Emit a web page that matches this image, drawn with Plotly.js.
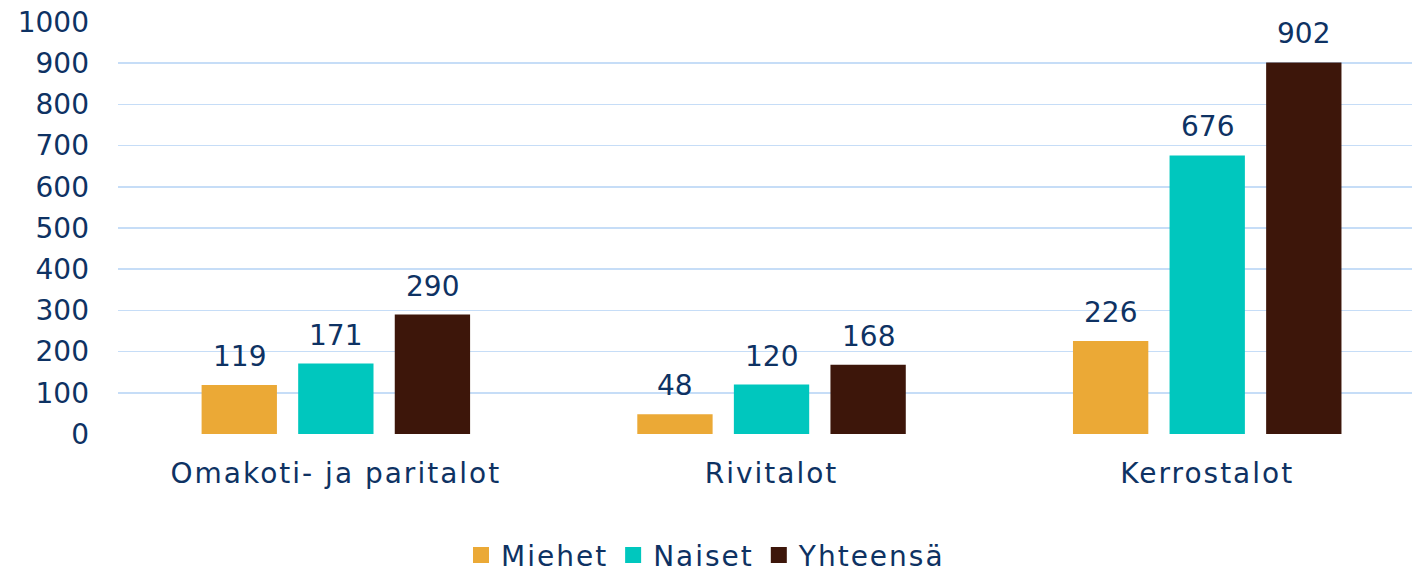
<!DOCTYPE html>
<html><head><meta charset="utf-8">
<script src="https://cdn.plot.ly/plotly-3.0.1.min.js"></script>
<style>
html,body{margin:0;padding:0;background:#fff}
#chart{width:1412px;height:573px}
.xtick text, .legendtext{letter-spacing:2px}
path.legendundefined{d:path("M8,8H-8V-8H8Z")}
</style>
</head><body><div id="chart"></div>
<script>
const categories = ["Omakoti- ja paritalot", "Rivitalot", "Kerrostalot"];
const seriesNames = ["Miehet", "Naiset", "Yhteensä"];
const miehet = [119, 48, 226];
const naiset = [171, 120, 676];
const yhteensa = [290, 168, 902];
const yTicks = [0, 100, 200, 300, 400, 500, 600, 700, 800, 900, 1000];

const colors = ["#EBA936", "#00C7BE", "#3D160A"];
const textColor = "#0E3263";
const fontFam = "'DejaVu Sans', sans-serif";
const values = [miehet, naiset, yhteensa];
const slot = 0.2215;

const data = values.map((v, i) => ({
  type: "bar",
  name: seriesNames[i],
  legendgroup: "g" + i,
  x: categories,
  y: v,
  marker: {color: colors[i]},
  hoverinfo: "x+y+name"
}));

const annotations = [];
values.forEach((v, i) => {
  v.forEach((val, j) => {
    annotations.push({
      x: j + (i - 1) * slot, y: val, xref: "x", yref: "y",
      text: String(val), showarrow: false,
      yanchor: "bottom", yshift: 10,
      font: {family: fontFam, size: 28, color: textColor}
    });
  });
});

const layout = {
  width: 1412, height: 573,
  margin: {l: 118, r: 0, t: 22, b: 139},
  paper_bgcolor: "#fff", plot_bgcolor: "#fff",
  barmode: "group",
  bargap: 0.335,
  bargroupgap: 0.22,
  font: {family: fontFam, size: 28, color: textColor},
  annotations: annotations,
  xaxis: {
    range: [-0.5, 2.47],
    showgrid: false, zeroline: false, showline: false,
    tickfont: {family: fontFam, size: 28, color: textColor},
    ticks: "", ticklabelstandoff: 20
  },
  yaxis: {
    range: [0, 1000],
    tickvals: yTicks,
    ticktext: yTicks.map(String),
    showgrid: true, gridcolor: "#C6DDF7", gridwidth: 1.5,
    zeroline: false, showline: false,
    tickfont: {family: fontFam, size: 28, color: textColor},
    ticks: "", ticklabelstandoff: 28
  },
  showlegend: true,
  legend: {
    orientation: "h", x: 0.5, xanchor: "center", xref: "container",
    yref: "container", y: 0.031, yanchor: "middle",
    font: {family: fontFam, size: 28, color: textColor},
    itemwidth: 30, traceorder: "grouped",
    tracegroupgap: 21
  }
};

Plotly.newPlot("chart", data, layout, {displayModeBar: false, staticPlot: true});
</script></body></html>
